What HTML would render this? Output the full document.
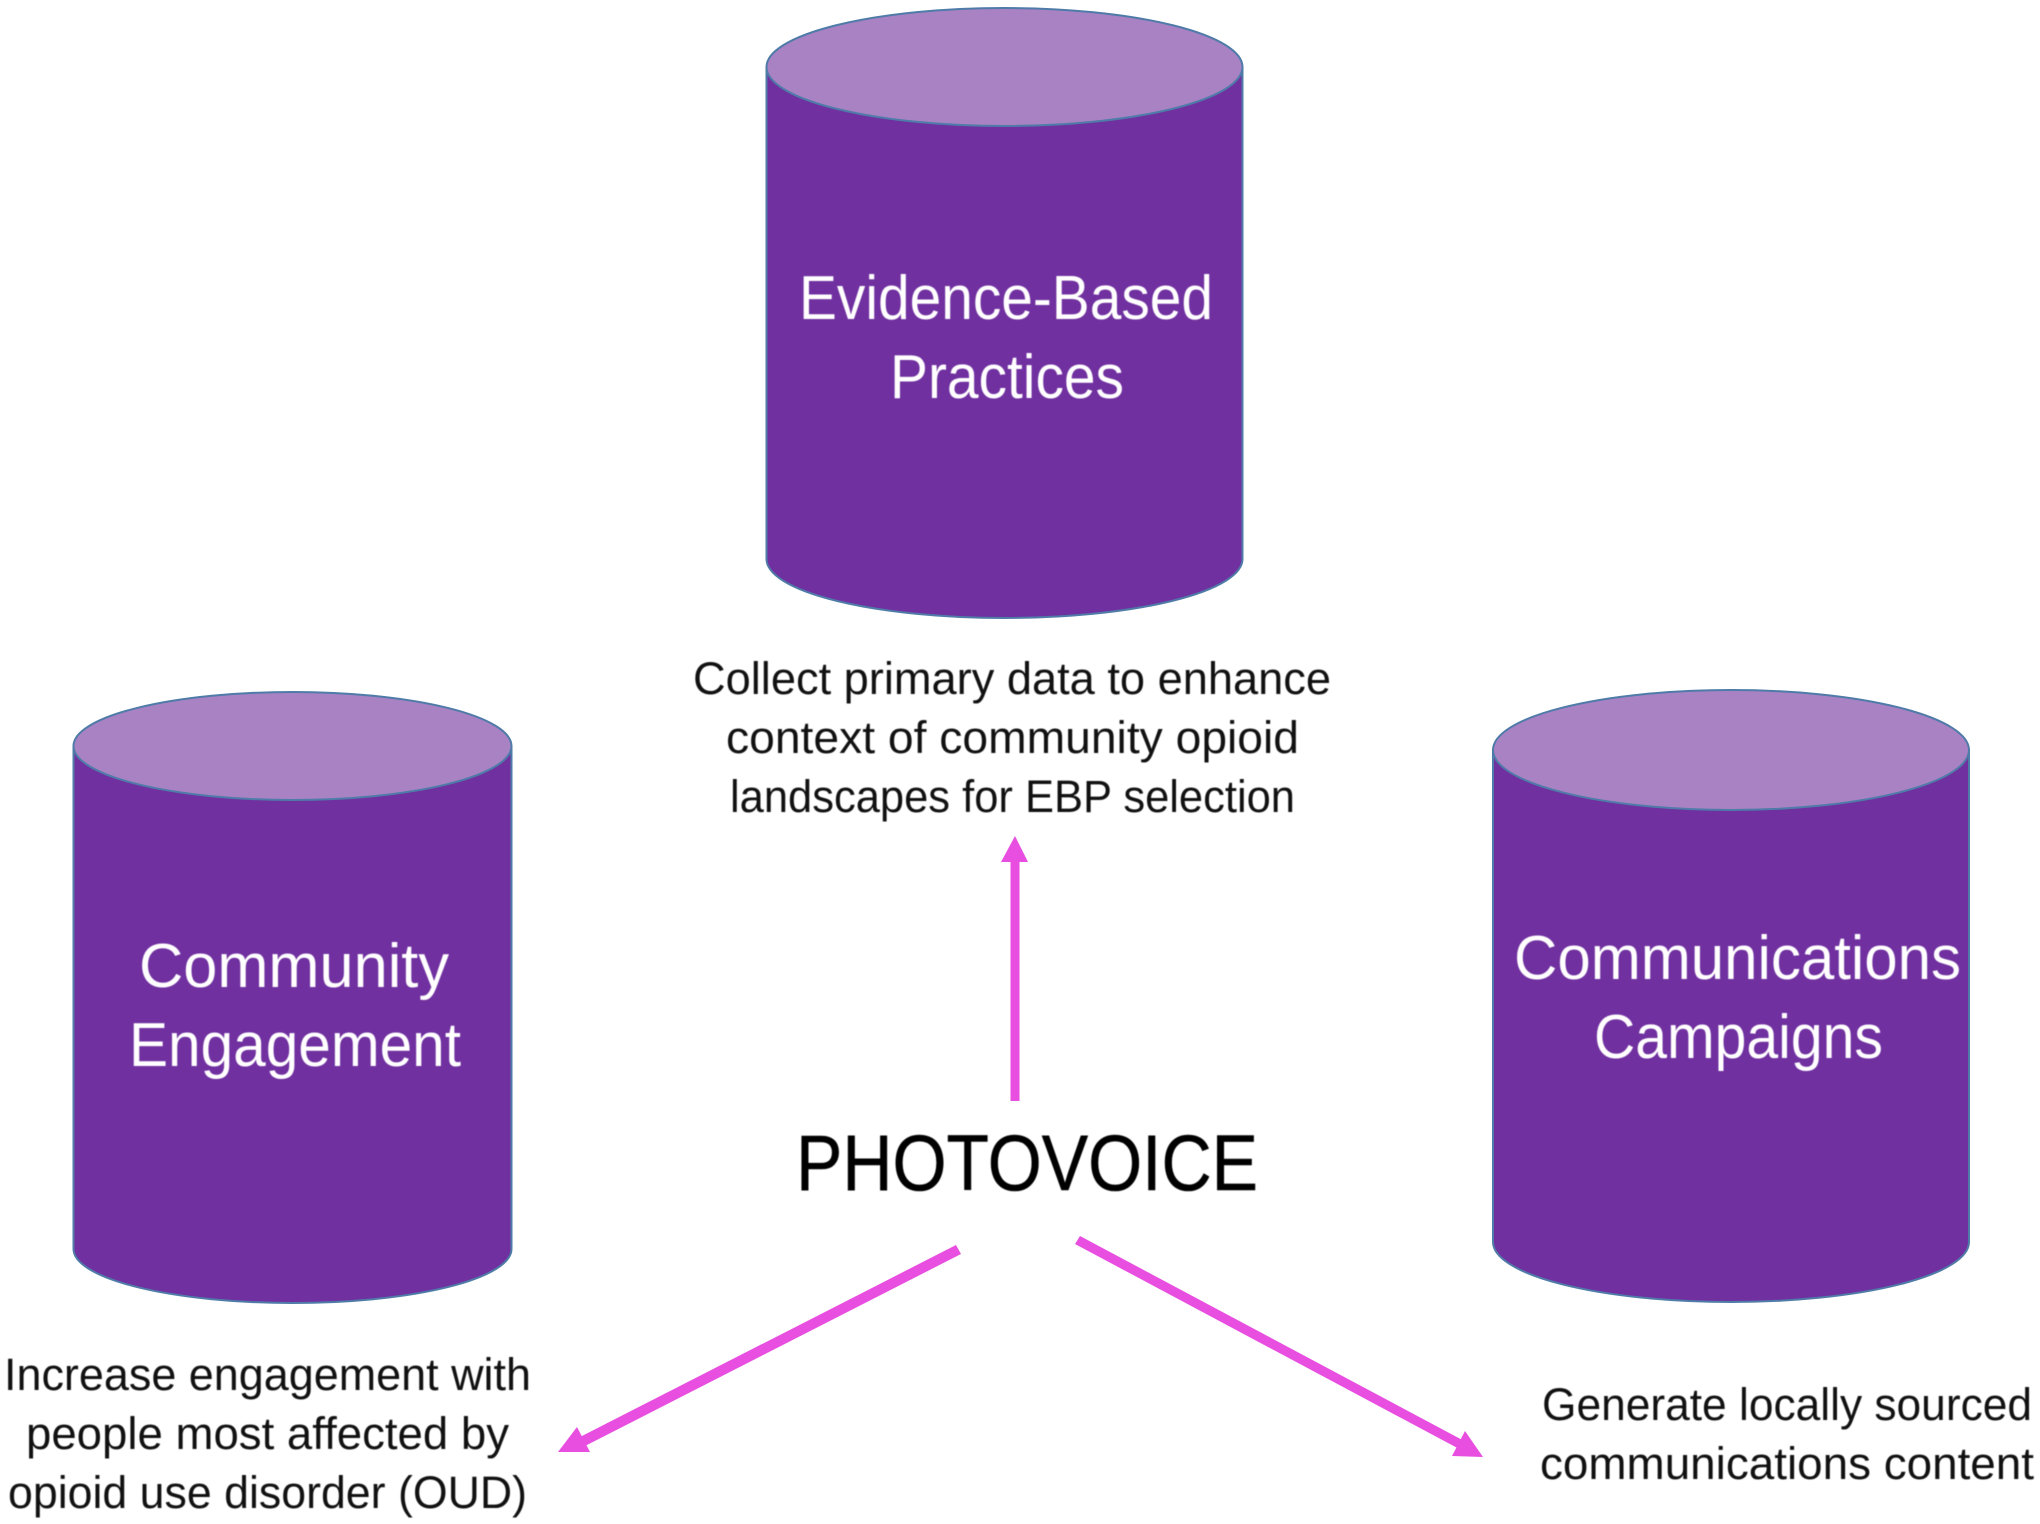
<!DOCTYPE html>
<html>
<head>
<meta charset="utf-8">
<style>
html,body{margin:0;padding:0;background:#fff;width:2040px;height:1524px;overflow:hidden}
svg{display:block}
text{font-family:"Liberation Sans",sans-serif}
.t{filter:blur(0.5px)}
.big{font-size:62px;fill:#fff}
.small{font-size:45px;fill:#111}
</style>
</head>
<body>
<svg width="2040" height="1524" viewBox="0 0 2040 1524" xmlns="http://www.w3.org/2000/svg">
  <!-- top cylinder -->
  <path d="M766.5 67 V559 A238 59 0 0 0 1242.5 559 V67 Z" fill="#7030A0" stroke="#4F7BA8" stroke-width="2"/>
  <ellipse cx="1004.5" cy="67" rx="238" ry="59" fill="#A982C4" stroke="#4F7BA8" stroke-width="2"/>
  <!-- left cylinder -->
  <path d="M73.5 746 V1249 A219 54 0 0 0 511.5 1249 V746 Z" fill="#7030A0" stroke="#4F7BA8" stroke-width="2"/>
  <ellipse cx="292.5" cy="746" rx="219" ry="54" fill="#A982C4" stroke="#4F7BA8" stroke-width="2"/>
  <!-- right cylinder -->
  <path d="M1493 750 V1242 A238 60 0 0 0 1969 1242 V750 Z" fill="#7030A0" stroke="#4F7BA8" stroke-width="2"/>
  <ellipse cx="1731" cy="750" rx="238" ry="60" fill="#A982C4" stroke="#4F7BA8" stroke-width="2"/>

  <g class="t">
  <!-- cylinder labels -->
  <text class="big" x="799" y="319" textLength="414" lengthAdjust="spacingAndGlyphs">Evidence-Based</text>
  <text class="big" x="890" y="398" textLength="234" lengthAdjust="spacingAndGlyphs">Practices</text>
  <text class="big" x="139" y="987" textLength="310" lengthAdjust="spacingAndGlyphs">Community</text>
  <text class="big" x="129" y="1066" textLength="332" lengthAdjust="spacingAndGlyphs">Engagement</text>
  <text class="big" x="1514" y="979" textLength="447" lengthAdjust="spacingAndGlyphs">Communications</text>
  <text class="big" x="1594" y="1058" textLength="289" lengthAdjust="spacingAndGlyphs">Campaigns</text>

  <!-- center label -->
  <text x="796" y="1190" font-size="79" fill="#000" stroke="#000" stroke-width="0.6" textLength="462" lengthAdjust="spacingAndGlyphs">PHOTOVOICE</text>

  <!-- small labels -->
  <text class="small" x="693" y="694" textLength="638" lengthAdjust="spacingAndGlyphs">Collect primary data to enhance</text>
  <text class="small" x="726" y="753" textLength="573" lengthAdjust="spacingAndGlyphs">context of community opioid</text>
  <text class="small" x="730" y="812" textLength="565" lengthAdjust="spacingAndGlyphs">landscapes for EBP selection</text>
  <text class="small" x="4" y="1390" textLength="527" lengthAdjust="spacingAndGlyphs">Increase engagement with</text>
  <text class="small" x="26" y="1449" textLength="483" lengthAdjust="spacingAndGlyphs">people most affected by</text>
  <text class="small" x="8" y="1508" textLength="519" lengthAdjust="spacingAndGlyphs">opioid use disorder (OUD)</text>
  <text class="small" x="1542" y="1420" textLength="490" lengthAdjust="spacingAndGlyphs">Generate locally sourced</text>
  <text class="small" x="1540" y="1479" textLength="494" lengthAdjust="spacingAndGlyphs">communications content</text>
  </g>

  <!-- arrows -->
  <g fill="#E84FE0" stroke="none">
    <rect x="1010.5" y="858" width="9" height="243"/>
    <polygon points="1015,836 1001,862 1028,862"/>
    <polygon points="956,1245 961,1254 585,1446 580,1437"/>
    <polygon points="558,1452 577,1427 590,1452"/>
    <polygon points="1080,1236 1075,1244 1463,1451 1468,1443"/>
    <polygon points="1483,1457 1465,1431 1452,1456"/>
  </g>
</svg>
</body>
</html>
